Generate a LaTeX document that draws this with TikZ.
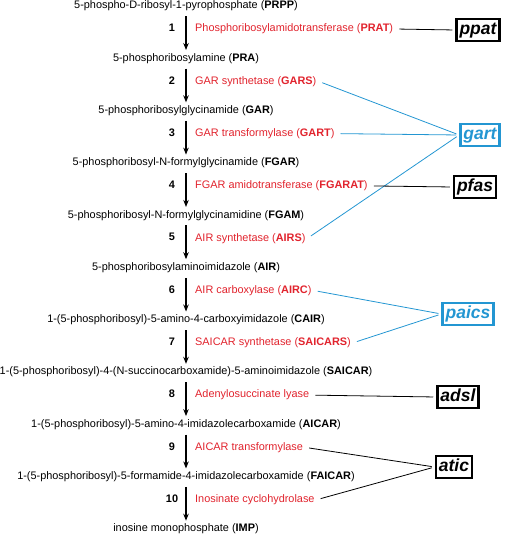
\documentclass[tikz,border=0pt]{standalone}
\usepackage{fontspec}
\setmainfont{Liberation Sans}
\usetikzlibrary{arrows.meta}

\definecolor{enzred}{RGB}{225,35,45}
\definecolor{geneblue}{RGB}{35,150,210}

\tikzset{
  cpd/.style={font=\fontsize{10.9}{13}\selectfont, inner sep=2pt},
  enz/.style={cpd, text=enzred, anchor=west},
  num/.style={font=\fontsize{10.9}{13}\selectfont\bfseries, inner sep=2pt},
  rxn/.style={line width=1.1pt, -{Stealth[length=7pt,width=5.5pt]}, shorten <=3pt, shorten >=1pt},
  gene/.style={draw, line width=2.5pt, inner sep=3pt, text height=12.5pt, text depth=3.5pt,
    font=\fontsize{17.5}{20}\selectfont\bfseries\itshape},
  bluegene/.style={gene, draw=geneblue, text=geneblue},
  link/.style={line width=0.8pt, shorten <=4pt, shorten >=3pt},
  bluelink/.style={link, draw=geneblue},
}

\begin{document}
\begin{tikzpicture}[x=1pt,y=-1pt]
  \useasboundingbox (0,0) rectangle (512,540);

  % compounds
  \node[cpd] (prpp) at (186,6) {5-phospho-D-ribosyl-1-pyrophosphate (\textbf{PRPP})};
  \node[cpd] (pra) at (186,58.3) {5-phosphoribosylamine (\textbf{PRA})};
  \node[cpd] (gar) at (186,110.6) {5-phosphoribosylglycinamide (\textbf{GAR})};
  \node[cpd] (fgar) at (186,162.9) {5-phosphoribosyl-N-formylglycinamide (\textbf{FGAR})};
  \node[cpd] (fgam) at (186,215.2) {5-phosphoribosyl-N-formylglycinamidine (\textbf{FGAM})};
  \node[cpd] (air) at (186,267.5) {5-phosphoribosylaminoimidazole (\textbf{AIR})};
  \node[cpd] (cair) at (186,319.8) {1-(5-phosphoribosyl)-5-amino-4-carboxyimidazole (\textbf{CAIR})};
  \node[cpd] (saicar) at (186,372.1) {1-(5-phosphoribosyl)-4-(N-succinocarboxamide)-5-aminoimidazole (\textbf{SAICAR})};
  \node[cpd] (aicar) at (186,424.4) {1-(5-phosphoribosyl)-5-amino-4-imidazolecarboxamide (\textbf{AICAR})};
  \node[cpd] (faicar) at (186,476.7) {1-(5-phosphoribosyl)-5-formamide-4-imidazolecarboxamide (\textbf{FAICAR})};
  \node[cpd] (imp) at (186,529) {inosine monophosphate (\textbf{IMP})};

  \foreach \a/\b in {prpp/pra, pra/gar, gar/fgar, fgar/fgam, fgam/air, air/cair,
    cair/saicar, saicar/aicar, aicar/faicar, faicar/imp}
    \draw[rxn] (\a) -- (\b);

  % step numbers
  \foreach \n in {1,...,10}
    \node[num] (n\n) at (172,{28+52.3*(\n-1)}) {\n};

  % enzymes
  \node[enz] (prat) at (193,29) {Phosphoribosylamidotransferase (\textbf{PRAT})};
  \node[enz] (gars) at (193,81.3) {GAR synthetase (\textbf{GARS})};
  \node[enz] (gart) at (193,133.6) {GAR transformylase (\textbf{GART})};
  \node[enz] (fgarat) at (193,185.9) {FGAR amidotransferase (\textbf{FGARAT})};
  \node[enz] (airs) at (193,238.2) {AIR synthetase (\textbf{AIRS})};
  \node[enz] (airc) at (193,290.5) {AIR carboxylase (\textbf{AIRC})};
  \node[enz] (saicars) at (193,342.8) {SAICAR synthetase (\textbf{SAICARS})};
  \node[enz] (adsl) at (193,395.1) {Adenylosuccinate lyase};
  \node[enz] (aicart) at (193,447.4) {AICAR transformylase};
  \node[enz] (imch) at (193,499.7) {Inosinate cyclohydrolase};

  % genes
  \node[gene] (g-ppat) at (478,30) {ppat};
  \node[bluegene] (g-gart) at (480,135) {gart};
  \node[gene] (g-pfas) at (475,187) {pfas};
  \node[bluegene] (g-paics) at (468,314) {paics};
  \node[gene] (g-adsl) at (458,397) {adsl};
  \node[gene] (g-atic) at (454,467) {atic};

  \draw[link] (prat.east) -- (g-ppat.west);
  \draw[bluelink] (gars.east) -- (g-gart.west);
  \draw[bluelink] (gart.east) -- (g-gart.west);
  \draw[bluelink] (airs.east) -- (g-gart.west);
  \draw[link] (fgarat.east) -- (g-pfas.west);
  \draw[bluelink] (airc.east) -- (g-paics.west);
  \draw[bluelink] (saicars.east) -- (g-paics.west);
  \draw[link] (adsl.east) -- (g-adsl.west);
  \draw[link] (aicart.east) -- (g-atic.west);
  \draw[link] (imch.east) -- (g-atic.west);
\end{tikzpicture}
\end{document}
